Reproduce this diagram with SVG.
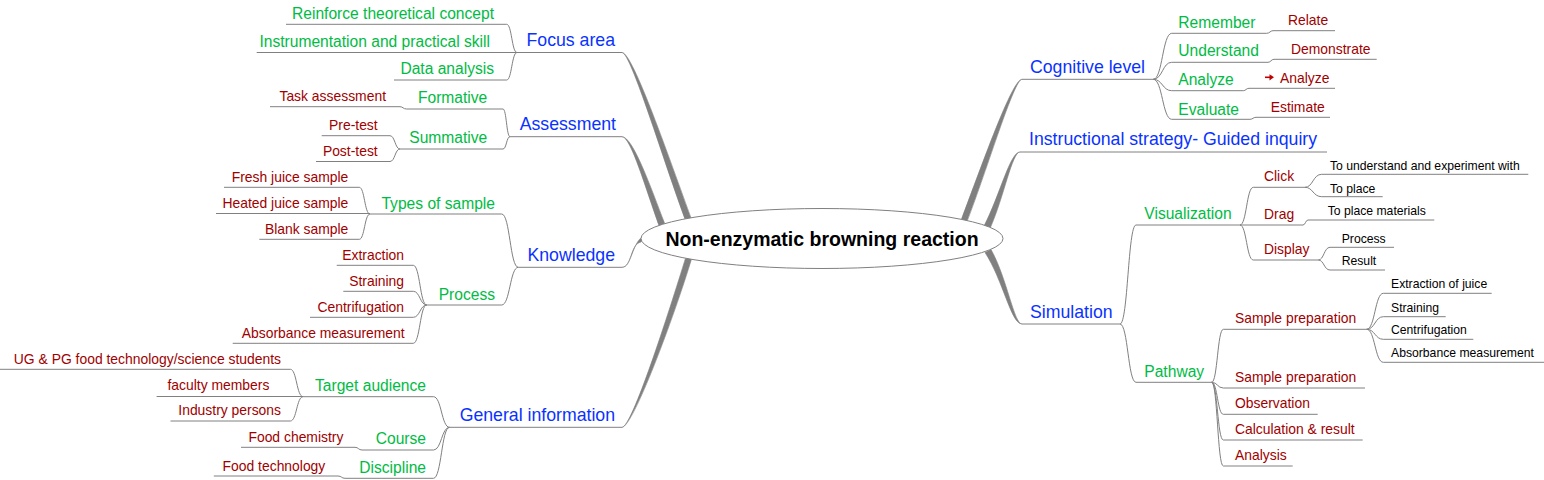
<svg xmlns="http://www.w3.org/2000/svg" width="1544" height="480" viewBox="0 0 1544 480">
<style>
text{font-family:"Liberation Sans",Arial,sans-serif}
.l0{font-size:19.5px;font-weight:bold;fill:#000}
.l1{font-size:17.7px;fill:#0a32ff}
.l2{font-size:15.6px;fill:#00bb44}
.l3{font-size:13.9px;fill:#a00000}
.l4{font-size:12.2px;fill:#000}
.r{text-anchor:end}
.ul{stroke:#808080;fill:none;stroke-width:1}
.cn{stroke:#808080;fill:none;stroke-width:1}
.mc{fill:#808080;stroke:#808080;stroke-width:0.6}
</style>
<rect width="1544" height="480" fill="#fff"/>
<g id="connectors">
<path class="mc" d="M622,52.5 C631,52.5 664,163 686.2,222.1 L691.8,219.9 C670,161 633,52.5 622,52.5 Z"/>
<path class="mc" d="M622,136.7 C631,136.7 646,190 659.3,226.3 L664.7,223.6 C651,188 633,136.7 622,136.7 Z"/>
<path class="mc" d="M622,267.3 C632,267.3 630,244 641,242 L645,235.5 C632,240 632,267.3 622,267.3 Z"/>
<path class="mc" d="M622,427.3 C632,427.3 668,315 686.2,255.9 L691.8,258.1 C674,317 633,427.3 622,427.3 Z"/>
<path class="mc" d="M1022,79.3 C1012,79.3 982,165 961.2,219.9 L966.8,222.1 C988,167 1014,79.3 1022,79.3 Z"/>
<path class="mc" d="M1020,152 C1010,152 1000,195 984,226 L990,228.5 C1004,197 1012,152 1020,152 Z"/>
<path class="mc" d="M1022,324 C1011,324 1003,280 985,252.5 L991,249.5 C1007,278 1014,324 1022,324 Z"/>
<path class="cn" d="M517,52.5 C511.8,52.5 511.8,24.3 506.7,24.3"/>
<path class="cn" d="M517,52.5 C511.8,52.5 511.8,80 506.7,80"/>
<path class="cn" d="M510,136.7 C506.5,136.7 506.5,109 503,109"/>
<path class="cn" d="M510,136.7 C506.5,136.7 506.5,149 503,149"/>
<path class="cn" d="M406.7,109 C403,109 403,106.7 400,106.7"/>
<path class="cn" d="M400,149 C395,149 395,135.7 390,135.7"/>
<path class="cn" d="M400,149 C395,149 395,161.5 390,161.5"/>
<path class="cn" d="M518.3,267.3 C510,267.3 510,214 501.7,214"/>
<path class="cn" d="M518.3,267.3 C510,267.3 510,305 501.7,305"/>
<path class="cn" d="M370,214 C364.6,214 364.6,187.3 359.3,187.3"/>
<path class="cn" d="M370,214 C364.6,214 364.6,239.3 359.3,239.3"/>
<path class="cn" d="M426.7,305 C420,305 420,265.3 413.3,265.3"/>
<path class="cn" d="M426.7,305 C420,305 420,291.3 413.3,291.3"/>
<path class="cn" d="M426.7,305 C420,305 420,317.3 413.3,317.3"/>
<path class="cn" d="M426.7,305 C420,305 420,343.3 413.3,343.3"/>
<path class="cn" d="M449.5,427.3 C441.5,427.3 441.5,396.7 433.5,396.7"/>
<path class="cn" d="M449.5,427.3 C441.5,427.3 441.5,450 433.5,450"/>
<path class="cn" d="M449.5,427.3 C441.5,427.3 441.5,478.3 433.5,478.3"/>
<path class="cn" d="M303,396.7 C296.7,396.7 296.7,369.3 290.4,369.3"/>
<path class="cn" d="M303,396.7 C296.7,396.7 296.7,421 290.4,421"/>
<path class="cn" d="M362,450 C358.5,450 358.5,447.3 355,447.3"/>
<path class="cn" d="M345,478.3 C341.5,478.3 341.5,476 338,476"/>
<path class="cn" d="M1153.3,79.3 C1162.5,79.3 1162.5,33.3 1171.7,33.3"/>
<path class="cn" d="M1153.3,79.3 C1162.5,79.3 1162.5,62.3 1171.7,62.3"/>
<path class="cn" d="M1153.3,79.3 C1162.5,79.3 1162.5,90.7 1171.7,90.7"/>
<path class="cn" d="M1153.3,79.3 C1162.5,79.3 1162.5,119.3 1171.7,119.3"/>
<path class="cn" d="M1266.7,33.3 C1270,33.3 1270,30.7 1273,30.7"/>
<path class="cn" d="M1268,62.3 C1271,62.3 1271,59.3 1274,59.3"/>
<path class="cn" d="M1243.3,90.7 C1246,90.7 1246,88.3 1249,88.3"/>
<path class="cn" d="M1250,119.3 C1253,119.3 1253,117.3 1256,117.3"/>
<path class="cn" d="M1120,324 C1128,324 1128,225 1136,225"/>
<path class="cn" d="M1120,324 C1128,324 1128,382.3 1136,382.3"/>
<path class="cn" d="M1240,225 C1246.6,225 1246.6,187.3 1253.3,187.3"/>
<path class="cn" d="M1240,225 C1246.6,225 1246.6,260 1253.3,260"/>
<path class="cn" d="M1305,187.3 C1313,187.3 1313,174.3 1321.7,174.3"/>
<path class="cn" d="M1305,187.3 C1313,187.3 1313,196.7 1321.7,196.7"/>
<path class="cn" d="M1303,225 C1305.5,225 1305.5,220 1308,220"/>
<path class="cn" d="M1318.3,260 C1324,260 1324,247.3 1330,247.3"/>
<path class="cn" d="M1318.3,260 C1324,260 1324,270 1330,270"/>
<path class="cn" d="M1211.7,382.3 C1217.5,382.3 1217.5,329.3 1223.3,329.3"/>
<path class="cn" d="M1211.7,382.3 C1217.5,382.3 1217.5,388 1223.3,388"/>
<path class="cn" d="M1211.7,382.3 C1217.5,382.3 1217.5,414.3 1223.3,414.3"/>
<path class="cn" d="M1211.7,382.3 C1217.5,382.3 1217.5,440 1223.3,440"/>
<path class="cn" d="M1211.7,382.3 C1217.5,382.3 1217.5,466 1223.3,466"/>
<path class="cn" d="M1366.7,329.3 C1375,329.3 1375,293.3 1383.3,293.3"/>
<path class="cn" d="M1366.7,329.3 C1375,329.3 1375,316.7 1383.3,316.7"/>
<path class="cn" d="M1366.7,329.3 C1375,329.3 1375,339.3 1383.3,339.3"/>
<path class="cn" d="M1366.7,329.3 C1375,329.3 1375,362.3 1383.3,362.3"/>
</g>
<g id="center">
<ellipse cx="822" cy="238.5" rx="181" ry="30" fill="#fff" stroke="#808080" stroke-width="1"/>
<text class="l0" x="822" y="246" text-anchor="middle">Non-enzymatic browning reaction</text>
</g>
<g id="focus-area"><path class="ul" d="M516.7,52.5H622"/><text class="l1 r" x="615" y="46">Focus area</text></g>
<g id="reinforce"><path class="ul" d="M286,24.3H506.7"/><text class="l2 r" x="494" y="19">Reinforce theoretical concept</text></g>
<g id="instrumentation"><path class="ul" d="M256.7,52.5H517"/><text class="l2 r" x="490" y="46.5">Instrumentation and practical skill</text></g>
<g id="data-analysis"><path class="ul" d="M394,80H506.7"/><text class="l2 r" x="494" y="74">Data analysis</text></g>
<g id="assessment"><path class="ul" d="M510,136.7H622"/><text class="l1 r" x="616" y="130">Assessment</text></g>
<g id="formative"><path class="ul" d="M406.7,109H503"/><text class="l2 r" x="487.3" y="103.3">Formative</text></g>
<g id="summative"><path class="ul" d="M400,149H503"/><text class="l2 r" x="487.3" y="143">Summative</text></g>
<g id="task-assessment"><path class="ul" d="M270,106.7H400"/><text class="l3 r" x="386" y="100.7">Task assessment</text></g>
<g id="pre-test"><path class="ul" d="M321.7,135.7H390"/><text class="l3 r" x="377.7" y="129.5">Pre-test</text></g>
<g id="post-test"><path class="ul" d="M316,161.5H390"/><text class="l3 r" x="377.7" y="155.5">Post-test</text></g>
<g id="knowledge"><path class="ul" d="M518.3,267.3H622"/><text class="l1 r" x="615" y="260.5">Knowledge</text></g>
<g id="types-of-sample"><path class="ul" d="M370,214H501.7"/><text class="l2 r" x="495" y="208.5">Types of sample</text></g>
<g id="process-k"><path class="ul" d="M426.7,305H501.7"/><text class="l2 r" x="495" y="299.5">Process</text></g>
<g id="fresh"><path class="ul" d="M224,187.3H359.3"/><text class="l3 r" x="348.3" y="181.7">Fresh juice sample</text></g>
<g id="heated"><path class="ul" d="M216,213.5H370"/><text class="l3 r" x="348.3" y="207.7">Heated juice sample</text></g>
<g id="blank"><path class="ul" d="M259.3,239.3H359.3"/><text class="l3 r" x="348.3" y="234">Blank sample</text></g>
<g id="extraction"><path class="ul" d="M336.7,265.3H413.3"/><text class="l3 r" x="404" y="259.5">Extraction</text></g>
<g id="straining-k"><path class="ul" d="M343.3,291.3H413.3"/><text class="l3 r" x="404" y="286">Straining</text></g>
<g id="centrifugation-k"><path class="ul" d="M310,317.3H413.3"/><text class="l3 r" x="404" y="311.7">Centrifugation</text></g>
<g id="absorbance-k"><path class="ul" d="M232.7,343.3H413.3"/><text class="l3 r" x="404.7" y="337.5">Absorbance measurement</text></g>
<g id="general-information"><path class="ul" d="M449.5,427.3H622"/><text class="l1 r" x="615" y="420.5">General information</text></g>
<g id="target-audience"><path class="ul" d="M303,396.7H433.5"/><text class="l2 r" x="426" y="391">Target audience</text></g>
<g id="course"><path class="ul" d="M362,450H433.5"/><text class="l2 r" x="426" y="444">Course</text></g>
<g id="discipline"><path class="ul" d="M345,478.3H433.5"/><text class="l2 r" x="426" y="472.7">Discipline</text></g>
<g id="ug-pg"><path class="ul" d="M0,369.3H290.4"/><text class="l3 r" x="281" y="363.5">UG &amp; PG food technology/science students</text></g>
<g id="faculty"><path class="ul" d="M156.6,396.5H303"/><text class="l3 r" x="269.4" y="389.5">faculty members</text></g>
<g id="industry"><path class="ul" d="M170.5,421H290.4"/><text class="l3 r" x="281" y="415">Industry persons</text></g>
<g id="food-chemistry"><path class="ul" d="M241,447.3H355"/><text class="l3 r" x="343.4" y="441.7">Food chemistry</text></g>
<g id="food-technology"><path class="ul" d="M213.8,476H338"/><text class="l3 r" x="325.3" y="470.7">Food technology</text></g>
<g id="cognitive-level"><path class="ul" d="M1022,79.3H1153.3"/><text class="l1" x="1030" y="73">Cognitive level</text></g>
<g id="remember"><path class="ul" d="M1171.7,33.3H1266.7"/><text class="l2" x="1178.3" y="27.5">Remember</text></g>
<g id="understand"><path class="ul" d="M1171.7,62.3H1268"/><text class="l2" x="1178.3" y="56">Understand</text></g>
<g id="analyze"><path class="ul" d="M1171.7,90.7H1243.3"/><text class="l2" x="1178.3" y="85">Analyze</text></g>
<g id="evaluate"><path class="ul" d="M1171.7,119.3H1250"/><text class="l2" x="1178.3" y="114.5">Evaluate</text></g>
<g id="relate"><path class="ul" d="M1273,30.7H1335"/><text class="l3" x="1288" y="25">Relate</text></g>
<g id="demonstrate"><path class="ul" d="M1274,59.3H1376.7"/><text class="l3" x="1291" y="54">Demonstrate</text></g>
<g id="analyze-r"><path class="ul" d="M1249,88.3H1335"/><path d="M1265,77.3H1270.5" stroke="#c00000" stroke-width="1.6"/><path d="M1269.5,74.2L1274,77.3L1269.5,80.4Z" fill="#c00000"/><text class="l3" x="1280" y="82.7">Analyze</text></g>
<g id="estimate"><path class="ul" d="M1256,117.3H1330"/><text class="l3" x="1270.7" y="111.7">Estimate</text></g>
<g id="instructional-strategy"><path class="ul" d="M1020,152H1327"/><text class="l1" x="1029" y="145">Instructional strategy- Guided inquiry</text></g>
<g id="simulation"><path class="ul" d="M1022,324H1120"/><text class="l1" x="1030" y="318">Simulation</text></g>
<g id="visualization"><path class="ul" d="M1136,225H1240"/><text class="l2" x="1144.3" y="219.3">Visualization</text></g>
<g id="pathway"><path class="ul" d="M1136,382.3H1211.7"/><text class="l2" x="1144.3" y="376.7">Pathway</text></g>
<g id="click"><path class="ul" d="M1253.3,187.3H1305"/><text class="l3" x="1264" y="181">Click</text></g>
<g id="drag"><path class="ul" d="M1240,225H1303"/><text class="l3" x="1264" y="219">Drag</text></g>
<g id="display"><path class="ul" d="M1253.3,260H1318.3"/><text class="l3" x="1264" y="254">Display</text></g>
<g id="to-understand"><path class="ul" d="M1321.7,174.3H1528.3"/><text class="l4" x="1330" y="170">To understand and experiment with</text></g>
<g id="to-place"><path class="ul" d="M1321.7,196.7H1382.7"/><text class="l4" x="1330" y="192.7">To place</text></g>
<g id="to-place-materials"><path class="ul" d="M1308,220H1434.3"/><text class="l4" x="1327.7" y="215">To place materials</text></g>
<g id="process-d"><path class="ul" d="M1330,247.3H1394"/><text class="l4" x="1341.7" y="242.7">Process</text></g>
<g id="result"><path class="ul" d="M1330,270H1385"/><text class="l4" x="1341.7" y="265">Result</text></g>
<g id="sample-prep-1"><path class="ul" d="M1223.3,329.3H1366.7"/><text class="l3" x="1235" y="323.3">Sample preparation</text></g>
<g id="sample-prep-2"><path class="ul" d="M1223.3,388H1365"/><text class="l3" x="1235" y="382.3">Sample preparation</text></g>
<g id="observation"><path class="ul" d="M1223.3,414.3H1317.7"/><text class="l3" x="1235" y="408.3">Observation</text></g>
<g id="calculation"><path class="ul" d="M1223.3,440H1362.7"/><text class="l3" x="1235" y="434.3">Calculation &amp; result</text></g>
<g id="analysis"><path class="ul" d="M1223.3,466H1292.7"/><text class="l3" x="1235" y="460">Analysis</text></g>
<g id="extraction-juice"><path class="ul" d="M1383.3,293.3H1491.7"/><text class="l4" x="1391" y="288.3">Extraction of juice</text></g>
<g id="straining-s"><path class="ul" d="M1383.3,316.7H1445.7"/><text class="l4" x="1391" y="311.7">Straining</text></g>
<g id="centrifugation-s"><path class="ul" d="M1383.3,339.3H1473.3"/><text class="l4" x="1391" y="334.3">Centrifugation</text></g>
<g id="absorbance-s"><path class="ul" d="M1383.3,362.3H1544"/><text class="l4" x="1391" y="357.3">Absorbance measurement</text></g>
</svg>
